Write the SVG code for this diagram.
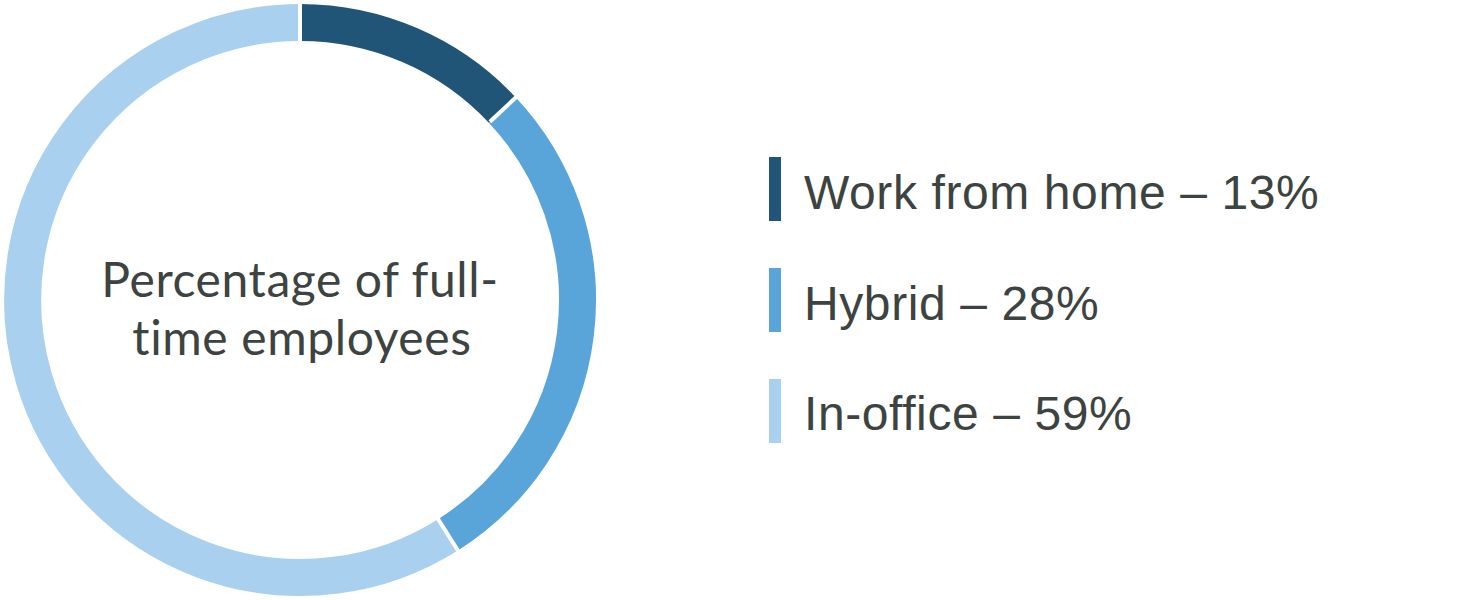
<svg xmlns="http://www.w3.org/2000/svg" width="1483" height="600" viewBox="0 0 1483 600">
<style>
.seg{fill:none;stroke-width:37}
.gap{stroke:#fff;stroke-width:4}
.lbl{font-family:"Liberation Sans",Arial,sans-serif;font-size:48px;letter-spacing:0.6px;fill:#3c4340}
.ctr{font-family:Lato,"Open Sans",sans-serif;font-size:48px;letter-spacing:0.6px;fill:#3c4340;text-anchor:middle}
</style>
<rect width="1483" height="600" fill="#fff"/>
<g id="donut">
<g id="seg-home"><path class="seg" stroke="#215578" d="M300,22.5 A277.5,277.5 0 0 1 502.3,110.1"/></g>
<g id="seg-hybrid"><path class="seg" stroke="#59a5d9" d="M502.3,110.1 A277.5,277.5 0 0 1 448.8,534.3"/></g>
<g id="seg-office"><path class="seg" stroke="#a9d0ef" d="M448.8,534.3 A277.5,277.5 0 1 1 300,22.5"/></g>
<g id="gaps">
<line class="gap" x1="300" y1="0" x2="300" y2="50"/>
<line class="gap" x1="528.3" y1="85.8" x2="489.9" y2="121.8"/>
<line class="gap" x1="459.0" y1="552.2" x2="430.9" y2="507.7"/>
</g>
</g>
<g id="center-label">
<text class="ctr" x="300" y="297">Percentage of full-</text>
<text class="ctr" x="302" y="355">time employees</text>
</g>
<g id="legend">
<g id="legend-home"><rect x="769" y="157" width="12" height="64" fill="#215578"/><text class="lbl" x="804" y="209">Work from home – 13%</text></g>
<g id="legend-hybrid"><rect x="769" y="268" width="12" height="64" fill="#59a5d9"/><text class="lbl" x="804" y="320">Hybrid – 28%</text></g>
<g id="legend-office"><rect x="769" y="379" width="12" height="64" fill="#a9d0ef"/><text class="lbl" x="804" y="430">In-office – 59%</text></g>
</g>
</svg>
